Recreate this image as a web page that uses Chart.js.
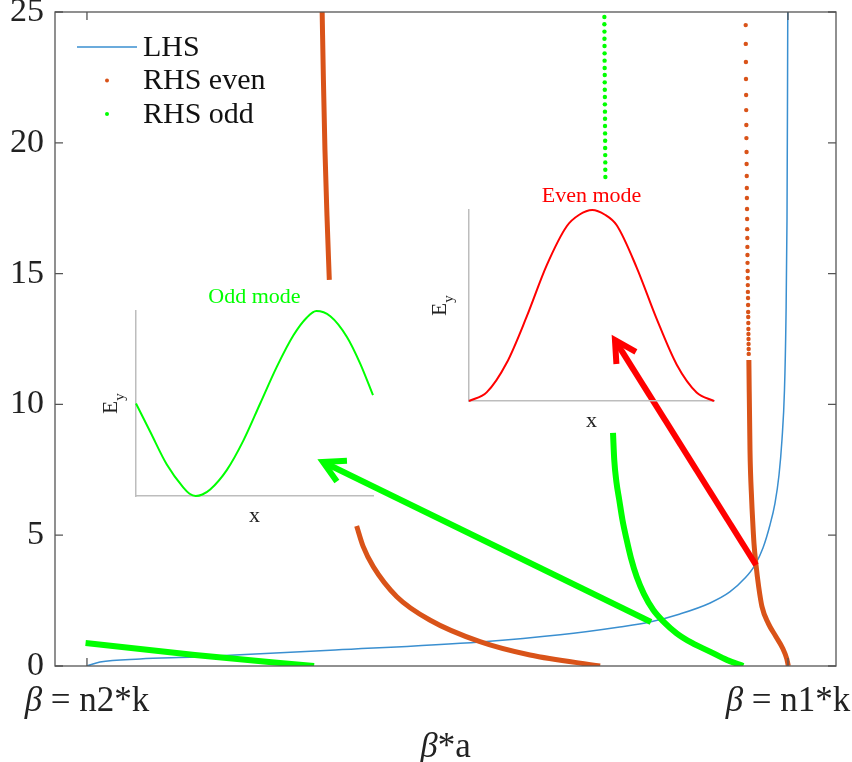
<!DOCTYPE html>
<html>
<head>
<meta charset="utf-8">
<script src="https://cdn.jsdelivr.net/npm/chart.js@4.4.0/dist/chart.umd.min.js"></script>
<style>
  html, body { margin: 0; padding: 0; background: #fff; }
  #wrap { position: relative; width: 852px; height: 762px; }
  #wrap canvas { position: absolute; }
</style>
</head>
<body>
<div id="wrap">
  <canvas id="main" width="852" height="762" style="left:0;top:0"></canvas>
  <canvas id="odd" width="290" height="256" style="left:96px;top:276px"></canvas>
  <canvas id="even" width="310" height="262" style="left:415px;top:176px"></canvas>
</div>
<script>
// beta*a axis, scaled so that beta = n2*k sits at 0 and beta = n1*k at 1
const xMin = -0.0456, xMax = 1.0685;
const yMin = 0, yMax = 25, yStep = 5;
const xTickVals = [0, 1];
const xTickText = ['n2*k', 'n1*k'];

// LHS
const lhsX = [0, 0.0185, 0.0756, 0.154, 0.354, 0.561, 0.675, 0.760, 0.803, 0.846, 0.889, 0.917, 0.9387, 0.9529, 0.9643, 0.9743, 0.9815, 0.9872, 0.9914, 0.9950, 0.9971, 0.9986, 0.9993, 0.9997];
const lhsY = [0, 0.15, 0.27, 0.34, 0.61, 0.92, 1.19, 1.49, 1.68, 1.99, 2.41, 2.83, 3.36, 3.86, 4.51, 5.39, 6.23, 7.30, 8.64, 10.55, 13.23, 17.05, 21.64, 25];

// RHS even : sparse dots of the 2nd branch
const evenDotX = [0.9397, 0.9398, 0.9400, 0.9401, 0.9403, 0.9404, 0.9406, 0.9407, 0.9409, 0.9410,
                  0.9412, 0.9413, 0.9414, 0.9416, 0.9417, 0.9418, 0.9420, 0.9421, 0.9422, 0.9423,
                  0.9425, 0.9426, 0.9427, 0.9428, 0.9430, 0.9431, 0.9432, 0.9433, 0.9434, 0.9435,
                  0.9436, 0.9437, 0.9438, 0.9439, 0.9440];
const evenDotY = [24.50, 23.78, 23.09, 22.44, 21.83, 21.25, 20.68, 20.18, 19.65, 19.19,
                  18.73, 18.27, 17.89, 17.47, 17.09, 16.70, 16.36, 16.02, 15.71, 15.41,
                  15.10, 14.83, 14.56, 14.30, 14.07, 13.80, 13.53, 13.34, 13.11, 12.88,
                  12.69, 12.50, 12.31, 12.12, 11.93];
// RHS even : dense parts (dots merge into a line)
const even1aX = [0.3355, 0.3373, 0.3395, 0.3424, 0.3457];
const even1aY = [25.0, 22.4, 19.72, 17.2, 14.76];
const even1bX = [0.3847, 0.3941, 0.4084, 0.4420, 0.4890, 0.5606, 0.6320, 0.7320];
const even1bY = [5.35, 4.56, 3.80, 2.65, 1.76, 0.93, 0.42, 0];
const even2X = [0.9442, 0.9458, 0.9482, 0.9496, 0.9515, 0.9544, 0.9582, 0.9629, 0.9719, 0.9829, 0.9924, 0.9981, 1.0005];
const even2Y = [11.70, 8.26, 6.35, 5.58, 4.69, 3.86, 3.03, 2.27, 1.63, 1.12, 0.68, 0.29, 0];

// RHS odd : sparse dots
const oddDotX = [0.7381, 0.7381, 0.7382, 0.7382, 0.7383, 0.7384, 0.7384, 0.7385, 0.7386, 0.7386, 0.7387, 0.7388,
                 0.7388, 0.7389, 0.7390, 0.7390, 0.7391, 0.7392, 0.7392, 0.7393, 0.7394, 0.7394, 0.7395];
const oddDotY = [24.81, 24.53, 24.25, 23.98, 23.70, 23.42, 23.14, 22.86, 22.59, 22.31, 22.03, 21.75,
                 21.47, 21.19, 20.92, 20.64, 20.36, 20.08, 19.80, 19.53, 19.25, 18.97, 18.69];
// RHS odd : dense parts
const odd0X = [-0.002, 0.154, 0.324];
const odd0Y = [0.88, 0.42, 0];
const odd1X = [0.7504, 0.7522, 0.7553, 0.7593, 0.7639, 0.7699, 0.7760, 0.7842, 0.7946, 0.8079, 0.8231, 0.8412, 0.8631, 0.8887, 0.9130, 0.9362];
const odd1Y = [8.91, 7.87, 7.03, 6.35, 5.58, 4.82, 4.13, 3.41, 2.75, 2.14, 1.68, 1.25, 0.88, 0.55, 0.23, 0];

// arrows (tail -> head)
const arrowGX = [0.8046, 0.3367];
const arrowGY = [1.68, 7.80];
const arrowRX = [0.9544, 0.7532];
const arrowRY = [3.86, 12.46];

// mode profiles in the insets (normalised)
const oddModeX = [0, 0.059, 0.130, 0.200, 0.226, 0.252, 0.280, 0.313, 0.383, 0.454, 0.524, 0.594, 0.665, 0.721, 0.761, 0.820, 0.890, 0.946, 1.0];
const oddModeY = [0.500, 0.350, 0.170, 0.045, 0.012, 0, 0.008, 0.035, 0.140, 0.302, 0.500, 0.698, 0.870, 0.965, 1.0, 0.972, 0.860, 0.716, 0.545];
const evenModeX = [0, 0.072, 0.154, 0.235, 0.317, 0.399, 0.450, 0.503, 0.555, 0.603, 0.684, 0.766, 0.848, 0.929, 1.0];
const evenModeY = [0, 0.045, 0.200, 0.440, 0.710, 0.915, 0.975, 1.0, 0.975, 0.920, 0.700, 0.430, 0.190, 0.045, 0];

const BLUE = '#3a8fd0', ORANGE = '#d95319', GREEN = '#00ff00', RED = '#ff0000';
const SERIF = '"Liberation Serif", "Times New Roman", serif';

function pts(xs, ys) { return xs.map((x, i) => ({ x: x, y: ys[i] })); }

function lineSet(label, xs, ys, color, w, order) {
  return { label: label, data: pts(xs, ys), showLine: true, borderColor: color, borderWidth: w,
           pointRadius: 0, cubicInterpolationMode: 'monotone', order: order, borderCapStyle: 'butt' };
}

// box + inward ticks, MATLAB style
const frame = {
  id: 'frame',
  afterDraw(chart) {
    const { ctx, chartArea: a, scales } = chart;
    ctx.save();
    ctx.strokeStyle = '#555';
    ctx.lineWidth = 1.3;
    ctx.strokeRect(a.left, a.top, a.right - a.left, a.bottom - a.top);
    ctx.beginPath();
    for (let v = yMin; v <= yMax; v += yStep) {
      const py = scales.y.getPixelForValue(v);
      ctx.moveTo(a.left, py); ctx.lineTo(a.left + 8, py);
      ctx.moveTo(a.right, py); ctx.lineTo(a.right - 8, py);
    }
    xTickVals.forEach(v => {
      const px = scales.x.getPixelForValue(v);
      ctx.moveTo(px, a.bottom); ctx.lineTo(px, a.bottom - 8);
      ctx.moveTo(px, a.top); ctx.lineTo(px, a.top + 8);
    });
    ctx.stroke();

    // x tick labels and axis title with an italic beta
    ctx.fillStyle = '#222';
    ctx.textBaseline = 'alphabetic';
    function betaText(rest, cx, base, size) {
      ctx.font = 'italic ' + size + 'px ' + SERIF;
      const wb = ctx.measureText('\u03B2').width;
      ctx.font = size + 'px ' + SERIF;
      const wr = ctx.measureText(rest).width;
      const x0 = cx - (wb + wr) / 2;
      ctx.textAlign = 'left';
      ctx.font = 'italic ' + size + 'px ' + SERIF;
      ctx.fillText('\u03B2', x0, base);
      ctx.font = size + 'px ' + SERIF;
      ctx.fillText(rest, x0 + wb, base);
    }
    xTickVals.forEach((v, i) => {
      betaText(' = ' + xTickText[i], scales.x.getPixelForValue(v), a.bottom + 45, 35);
    });
    betaText('*a', (a.left + a.right) / 2, a.bottom + 91, 35);

    // legend
    const lx = a.left + 22, ly = a.top + 35, gap = 33.5;
    ctx.strokeStyle = BLUE; ctx.lineWidth = 1.5;
    ctx.beginPath(); ctx.moveTo(lx, ly); ctx.lineTo(lx + 60, ly); ctx.stroke();
    ctx.fillStyle = ORANGE;
    ctx.beginPath(); ctx.arc(lx + 30, ly + gap, 2, 0, Math.PI * 2); ctx.fill();
    ctx.fillStyle = GREEN;
    ctx.beginPath(); ctx.arc(lx + 30, ly + 2 * gap, 2, 0, Math.PI * 2); ctx.fill();
    ctx.fillStyle = '#111';
    ctx.font = '30px ' + SERIF;
    ctx.textAlign = 'left';
    ctx.textBaseline = 'middle';
    ['LHS', 'RHS even', 'RHS odd'].forEach((t, i) => ctx.fillText(t, lx + 66, ly + 1 + i * gap));
    ctx.restore();
  }
};

// open arrow heads on datasets flagged arrowHead
const arrowHeads = {
  id: 'arrowHeads',
  afterDatasetsDraw(chart) {
    const ctx = chart.ctx;
    chart.data.datasets.forEach((ds, i) => {
      if (!ds.arrowHead) return;
      const p = chart.getDatasetMeta(i).data;
      const a = p[p.length - 2], b = p[p.length - 1];
      const ang = Math.atan2(b.y - a.y, b.x - a.x);
      const len = 24, spread = 0.5;
      ctx.save();
      ctx.strokeStyle = ds.borderColor;
      ctx.lineWidth = ds.borderWidth;
      ctx.lineCap = 'butt';
      ctx.lineJoin = 'miter';
      ctx.beginPath();
      ctx.moveTo(b.x - len * Math.cos(ang - spread), b.y - len * Math.sin(ang - spread));
      ctx.lineTo(b.x, b.y);
      ctx.lineTo(b.x - len * Math.cos(ang + spread), b.y - len * Math.sin(ang + spread));
      ctx.stroke();
      ctx.restore();
    });
  }
};

const ag = lineSet('arrow odd', arrowGX, arrowGY, GREEN, 6, 0); ag.arrowHead = true;
const ar = lineSet('arrow even', arrowRX, arrowRY, RED, 6, 0); ar.arrowHead = true;

new Chart(document.getElementById('main'), {
  type: 'scatter',
  data: {
    datasets: [
      ag, ar,
      { label: 'RHS even', data: pts(evenDotX, evenDotY), showLine: false, pointRadius: 2.2,
        pointBackgroundColor: ORANGE, pointBorderWidth: 0, order: 1 },
      { label: 'RHS odd', data: pts(oddDotX, oddDotY), showLine: false, pointRadius: 2.2,
        pointBackgroundColor: GREEN, pointBorderWidth: 0, order: 1 },
      lineSet('even 1a', even1aX, even1aY, ORANGE, 5, 1),
      lineSet('even 1b', even1bX, even1bY, ORANGE, 5, 1),
      lineSet('even 2', even2X, even2Y, ORANGE, 5, 1),
      lineSet('odd 0', odd0X, odd0Y, GREEN, 6, 1),
      lineSet('odd 1', odd1X, odd1Y, GREEN, 6, 1),
      lineSet('LHS', lhsX, lhsY, BLUE, 1.5, 2)
    ]
  },
  options: {
    responsive: false,
    animation: false,
    events: [],
    layout: { padding: { left: 0, top: 12, right: 16, bottom: 96 } },
    plugins: { legend: { display: false }, tooltip: { enabled: false } },
    scales: {
      x: { type: 'linear', min: xMin, max: xMax, display: false },
      y: {
        min: yMin, max: yMax,
        ticks: { stepSize: yStep, color: '#222', padding: 11, font: { family: SERIF, size: 34 } },
        grid: { display: false, drawTicks: false },
        border: { display: false },
        afterFit: s => { s.width = 55; s.paddingTop = 0; s.paddingBottom = 0; }
      }
    }
  },
  plugins: [arrowHeads, frame]
});

// inset labels: title, x and rotated E_y
const insetText = {
  id: 'insetText',
  afterDraw(chart, args, o) {
    const { ctx, chartArea: a } = chart;
    const cx = (a.left + a.right) / 2;
    ctx.save();
    ctx.textAlign = 'center';
    ctx.textBaseline = 'alphabetic';
    ctx.fillStyle = o.color;
    ctx.font = '22px ' + SERIF;
    ctx.fillText(o.title, cx, a.top - 8);
    ctx.fillStyle = '#222';
    ctx.fillText('x', cx, a.bottom + 26);
    ctx.translate(a.left - o.eyDx, (a.top + a.bottom) / 2);
    ctx.rotate(-Math.PI / 2);
    ctx.font = '21px ' + SERIF;
    const we = ctx.measureText('E').width;
    ctx.font = '15px ' + SERIF;
    const wy = ctx.measureText('y').width;
    ctx.textAlign = 'left';
    ctx.font = '21px ' + SERIF;
    ctx.fillText('E', -(we + wy) / 2, 0);
    ctx.font = '15px ' + SERIF;
    ctx.fillText('y', -(we + wy) / 2 + we, 7);
    ctx.restore();
  }
};

function inset(id, xs, ys, color, title, pad, eyDx) {
  return new Chart(document.getElementById(id), {
    type: 'scatter',
    data: { datasets: [{ data: pts(xs, ys), showLine: true, borderColor: color, borderWidth: 2,
                         pointRadius: 0, cubicInterpolationMode: 'monotone', clip: false }] },
    options: {
      responsive: false,
      animation: false,
      events: [],
      layout: { padding: pad },
      plugins: { legend: { display: false }, tooltip: { enabled: false },
                 insetText: { title: title, color: color, eyDx: eyDx } },
      scales: {
        x: { type: 'linear', min: 0, max: 1, ticks: { display: false },
             grid: { display: false, drawTicks: false }, border: { color: '#bdbdbd', width: 1.5 },
             afterFit: s => { s.height = 0; } },
        y: { min: 0, max: 1, ticks: { display: false },
             grid: { display: false, drawTicks: false }, border: { color: '#bdbdbd', width: 1.5 },
             afterFit: s => { s.width = 0; } }
      }
    },
    plugins: [insetText]
  });
}

inset('odd', oddModeX, oddModeY, GREEN, 'Odd mode', { left: 40, top: 35, right: 13, bottom: 36 }, 19);
inset('even', evenModeX, evenModeY, RED, 'Even mode', { left: 54, top: 34, right: 11, bottom: 37 }, 23);
</script>
</body>
</html>
